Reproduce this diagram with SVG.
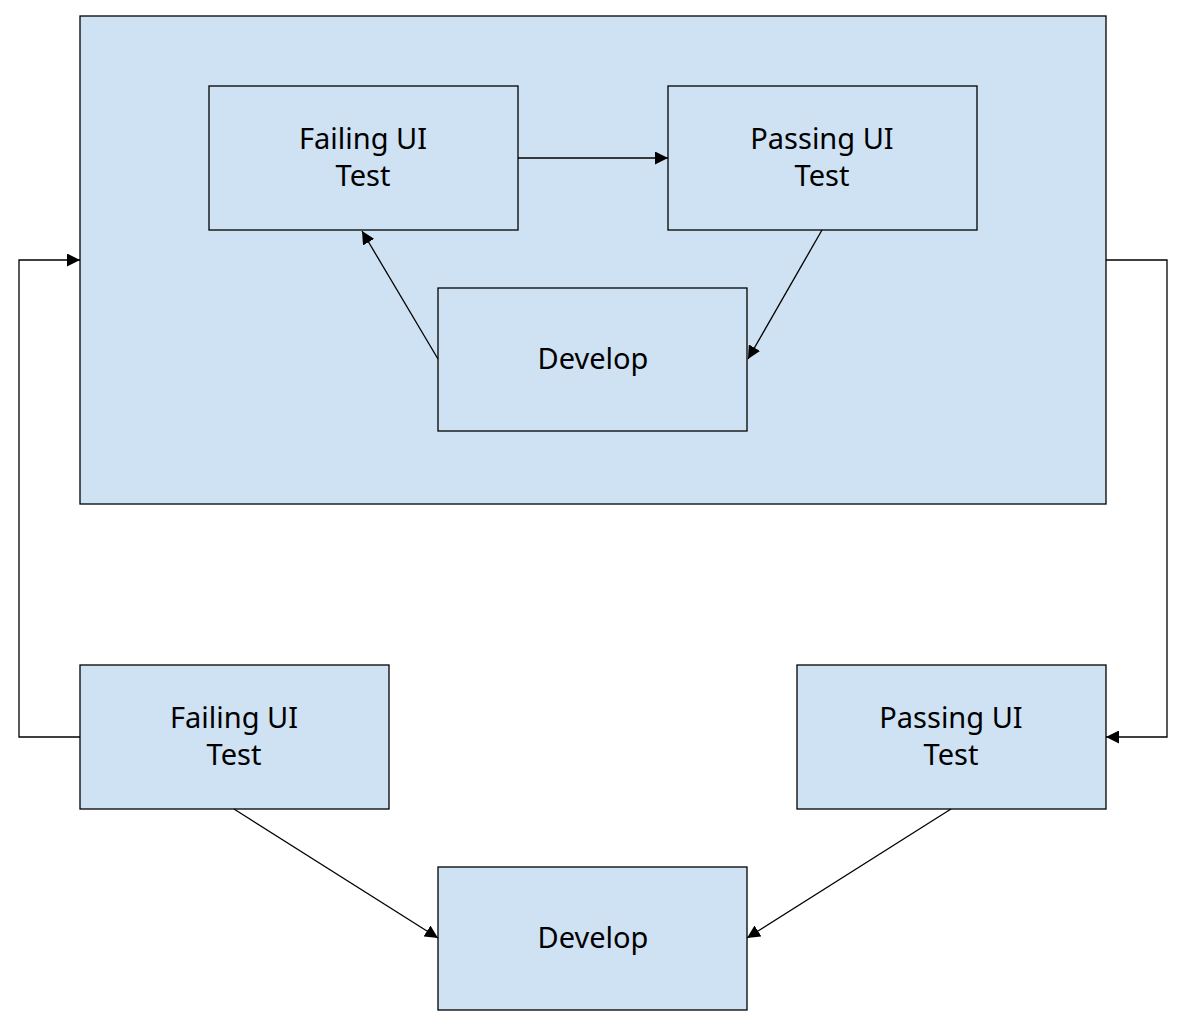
<svg xmlns="http://www.w3.org/2000/svg" width="1187" height="1029" viewBox="0 0 1187 1029">
<style>
.box{fill:#cfe2f3;stroke:#000;stroke-width:1.3}
.lbl{font-family:"Noto Sans","Liberation Sans",sans-serif;font-size:29px;fill:#000;text-anchor:middle}
.c{fill:none;stroke:#000;stroke-width:1.3}
</style>
<defs>
<marker id="ah" viewBox="0 0 10 10" refX="10" refY="5" markerWidth="13" markerHeight="13" markerUnits="userSpaceOnUse" orient="auto">
<path d="M0,0 L10,5 L0,10 z" fill="#000"/>
</marker>
</defs>
<rect width="1187" height="1029" fill="#fff"/>
<g id="container"><rect class="box" x="80" y="16" width="1026" height="488"/></g>
<g id="top-failing"><rect class="box" x="209" y="86" width="309" height="144"/><text class="lbl" x="363" y="149">Failing UI</text><text class="lbl" x="363" y="186">Test</text></g>
<g id="top-passing"><rect class="box" x="668" y="86" width="309" height="144"/><text class="lbl" x="822" y="149">Passing UI</text><text class="lbl" x="822" y="186">Test</text></g>
<g id="top-develop"><rect class="box" x="438" y="288" width="309" height="143"/><text class="lbl" x="593" y="369">Develop</text></g>
<g id="bottom-failing"><rect class="box" x="80" y="665" width="309" height="144"/><text class="lbl" x="234" y="728">Failing UI</text><text class="lbl" x="234" y="765">Test</text></g>
<g id="bottom-passing"><rect class="box" x="797" y="665" width="309" height="144"/><text class="lbl" x="951" y="728">Passing UI</text><text class="lbl" x="951" y="765">Test</text></g>
<g id="bottom-develop"><rect class="box" x="438" y="867" width="309" height="143"/><text class="lbl" x="593" y="948">Develop</text></g>
<g id="connectors">
<path class="c" d="M518,158 L668,158" marker-end="url(#ah)"/>
<path class="c" d="M822,230 L748,359" marker-end="url(#ah)"/>
<path class="c" d="M438,359 L362,231" marker-end="url(#ah)"/>
<path class="c" d="M80,737 L19,737 L19,260 L80,260" marker-end="url(#ah)"/>
<path class="c" d="M1106,260 L1167,260 L1167,737 L1106,737" marker-end="url(#ah)"/>
<path class="c" d="M234,809 L438,938" marker-end="url(#ah)"/>
<path class="c" d="M951,809 L747,938" marker-end="url(#ah)"/>
</g>
</svg>
